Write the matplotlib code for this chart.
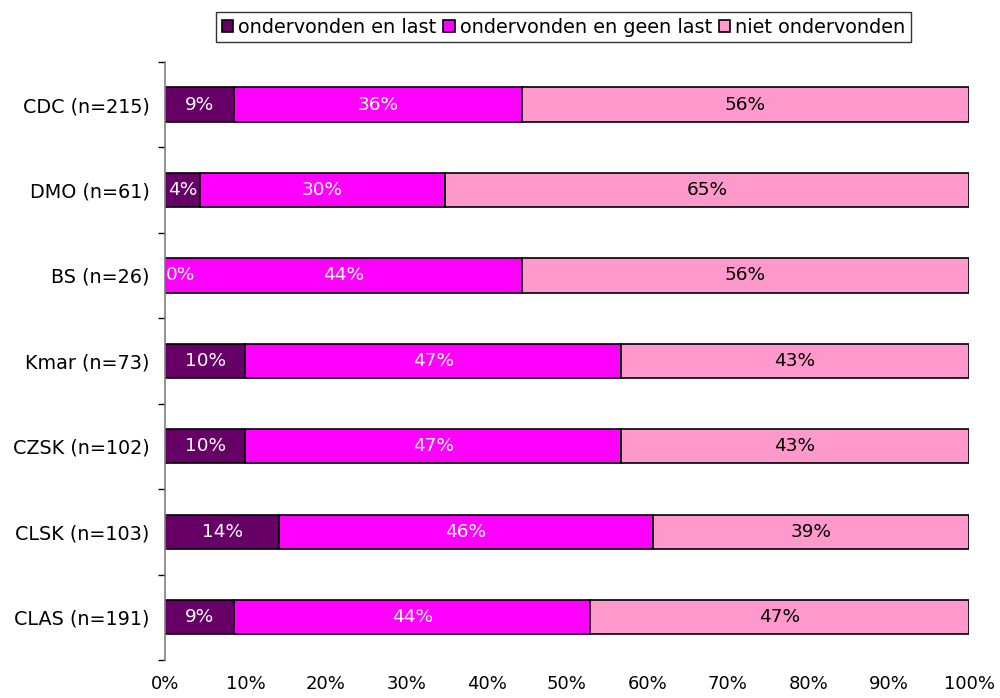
import numpy as np
import matplotlib.pyplot as plt
from matplotlib.ticker import FixedLocator

categories = ['CDC (n=215)', 'DMO (n=61)', 'BS (n=26)', 'Kmar (n=73)',
              'CZSK (n=102)', 'CLSK (n=103)', 'CLAS (n=191)']
last = [8.6, 4.3, 0.0, 10.0, 10.0, 14.2, 8.6]
geen_last = [35.8, 30.5, 44.4, 46.7, 46.7, 46.5, 44.3]
niet = [55.6, 65.2, 55.6, 43.3, 43.3, 39.3, 47.1]
labels_last = ['9%', '4%', '0%', '10%', '10%', '14%', '9%']
labels_geen = ['36%', '30%', '44%', '47%', '47%', '46%', '44%']
labels_niet = ['56%', '65%', '56%', '43%', '43%', '39%', '47%']
series_names = ['ondervonden en last', 'ondervonden en geen last', 'niet ondervonden']
colors = ['#660066', '#FF00FF', '#FF99CC']
text_colors = ['white', 'white', 'black']

plt.rcParams['font.family'] = 'DejaVu Sans'

fig = plt.figure(figsize=(10, 6.98), dpi=100)
ax = fig.add_axes([0.165, 0.0544, 0.804, 0.857])

y = np.arange(len(categories))
left = np.zeros(len(categories))
series = [last, geen_last, niet]
series_labels = [labels_last, labels_geen, labels_niet]
for vals, lbls, name, col, tcol in zip(series, series_labels, series_names, colors, text_colors):
    vals = np.array(vals)
    ax.barh(y, vals, left=left, height=0.4, color=col, edgecolor='black',
            linewidth=1.2, label=name)
    for i, (v, l) in enumerate(zip(vals, lbls)):
        if v > 0:
            ax.text(left[i] + v / 2, y[i], l, ha='center', va='center',
                    color=tcol, fontsize=13.3)
        else:
            ax.text(left[i] + 0.15, y[i], l, ha='left', va='center',
                    color='white', fontsize=13.3)
    left = left + vals

ax.set_xlim(0, 100)
ax.set_ylim(len(categories) - 0.5, -0.5)
ax.set_xticks(np.arange(0, 101, 10))
ax.set_xticklabels([f'{v}%' for v in range(0, 101, 10)], fontsize=13)
ax.tick_params(axis='x', length=0, pad=11)
ax.set_yticks(y)
ax.set_yticklabels(categories, fontsize=13.8)
ax.tick_params(axis='y', which='major', length=0, pad=11)
ax.yaxis.set_minor_locator(FixedLocator(np.arange(-0.5, len(categories), 1)))
ax.tick_params(axis='y', which='minor', length=5, color='black', width=1)

for s in ['top', 'right', 'bottom']:
    ax.spines[s].set_visible(False)
ax.spines['left'].set_color('#808080')
ax.spines['left'].set_linewidth(1.2)

leg = fig.legend(loc='upper center', bbox_to_anchor=(0.5635, 0.983), ncol=3,
                 fontsize=13.9, frameon=True, fancybox=False, edgecolor='black',
                 handlelength=0.6, handleheight=0.6, handletextpad=0.25,
                 columnspacing=0.35, borderpad=0.3, borderaxespad=0)
leg.get_frame().set_linewidth(1)

fig.savefig('out.png', dpi=100)
